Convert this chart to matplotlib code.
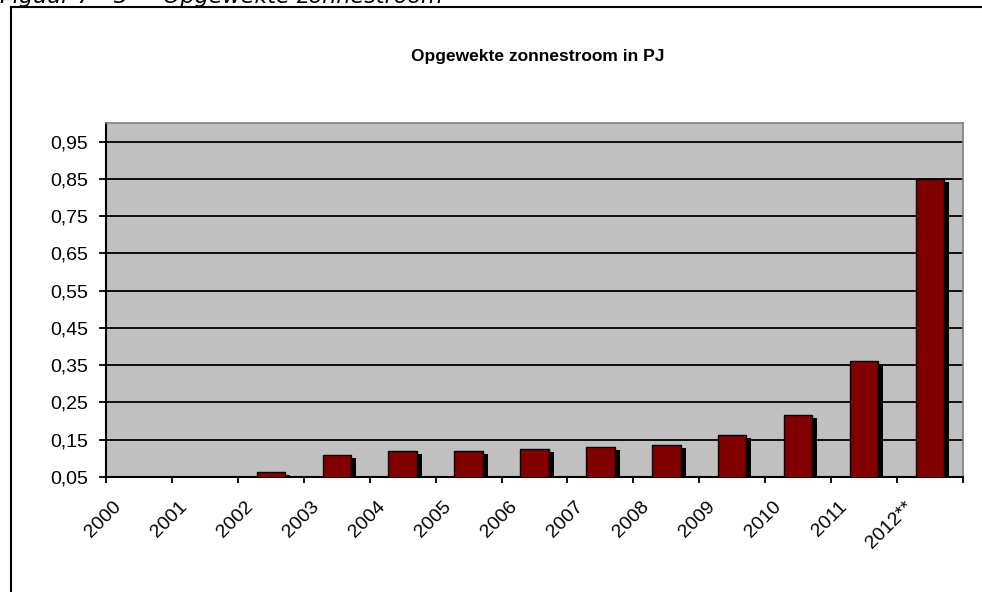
import matplotlib
matplotlib.use("Agg")
import matplotlib.pyplot as plt
import matplotlib.patheffects as pe
import matplotlib.transforms as mtransforms
import numpy as np

years = ["2000", "2001", "2002", "2003", "2004", "2005", "2006",
         "2007", "2008", "2009", "2010", "2011", "2012**"]
values = [0.02, 0.03, 0.064, 0.11, 0.12, 0.12, 0.126,
          0.131, 0.136, 0.163, 0.216, 0.362, 0.85]
yticks = [0.05, 0.15, 0.25, 0.35, 0.45, 0.55, 0.65, 0.75, 0.85, 0.95]
ytick_labels = ["0,05", "0,15", "0,25", "0,35", "0,45", "0,55",
                "0,65", "0,75", "0,85", "0,95"]

plt.rcParams['font.family'] = ['Liberation Sans', 'DejaVu Sans']

W, H = 982, 592
fig = plt.figure(figsize=(W / 100, H / 100), dpi=100)

# outer frame (extends off the right and bottom edges)
fig.add_artist(plt.Line2D([11 / W, 11 / W], [0, 1 - 7 / H], color='black', lw=1.5,
                          transform=fig.transFigure))
fig.add_artist(plt.Line2D([11 / W, 1.0], [1 - 7 / H, 1 - 7 / H], color='black', lw=1.5,
                          transform=fig.transFigure))

# caption cut off at top
fig.text(0 / W, 1 - 3 / H, "Figuur 7 - 3", fontsize=16,
         style='italic', family='DejaVu Sans', ha='left', va='baseline')
fig.text(163 / W, 1 - 3 / H, "Opgewekte zonnestroom", fontsize=16,
         style='italic', family='DejaVu Sans', ha='left', va='baseline')

left, right, top, bottom = 106, 963, 123, 477
ax = fig.add_axes([left / W, 1 - bottom / H, (right - left) / W, (bottom - top) / H])
ax.set_facecolor('#c0c0c0')

x = np.arange(len(years))
bars = ax.bar(x + 0.5, values, width=0.43, color='#800000', edgecolor='black',
              linewidth=1.0, zorder=3)
for b in bars:
    b.set_path_effects([pe.SimplePatchShadow(offset=(3.6, -2.2), shadow_rgbFace='black',
                                             alpha=1.0), pe.Normal()])

ax.set_xlim(0, len(years))
ax.set_ylim(0.05, 1.0)
ax.set_yticks(yticks)
ax.set_yticklabels(ytick_labels, fontsize=14)
ax.yaxis.grid(True, color='black', lw=1.3, zorder=1)
ax.set_axisbelow(True)

ax.set_xticks(np.arange(len(years) + 1))
ax.set_xticklabels([])
ax.tick_params(axis='x', length=4.5, width=1.3, direction='out')
ax.tick_params(axis='y', length=5, width=1.3, direction='out', pad=8)

# rotated category labels
trans = mtransforms.blended_transform_factory(ax.transData, ax.transAxes)
offset = mtransforms.ScaledTranslation(-20 / 100, -27 / 100, fig.dpi_scale_trans)
for xi, lab in zip(x, years):
    ax.text(xi + 0.5, 0, lab, transform=trans + offset, rotation=45,
            ha='right', va='center', rotation_mode='anchor', fontsize=14,
            clip_on=False)

ax.spines['left'].set_color('black')
ax.spines['left'].set_linewidth(1.5)
ax.spines['bottom'].set_color('black')
ax.spines['bottom'].set_linewidth(1.5)
ax.spines['top'].set_color('#808080')
ax.spines['right'].set_color('#808080')
ax.spines['top'].set_linewidth(1.2)
ax.spines['right'].set_linewidth(1.2)

fig.text(538 / W, 1 - 57 / H, "Opgewekte zonnestroom in PJ", fontsize=12.5,
         fontweight='bold', ha='center', va='center')

fig.savefig("out.png", dpi=100)
